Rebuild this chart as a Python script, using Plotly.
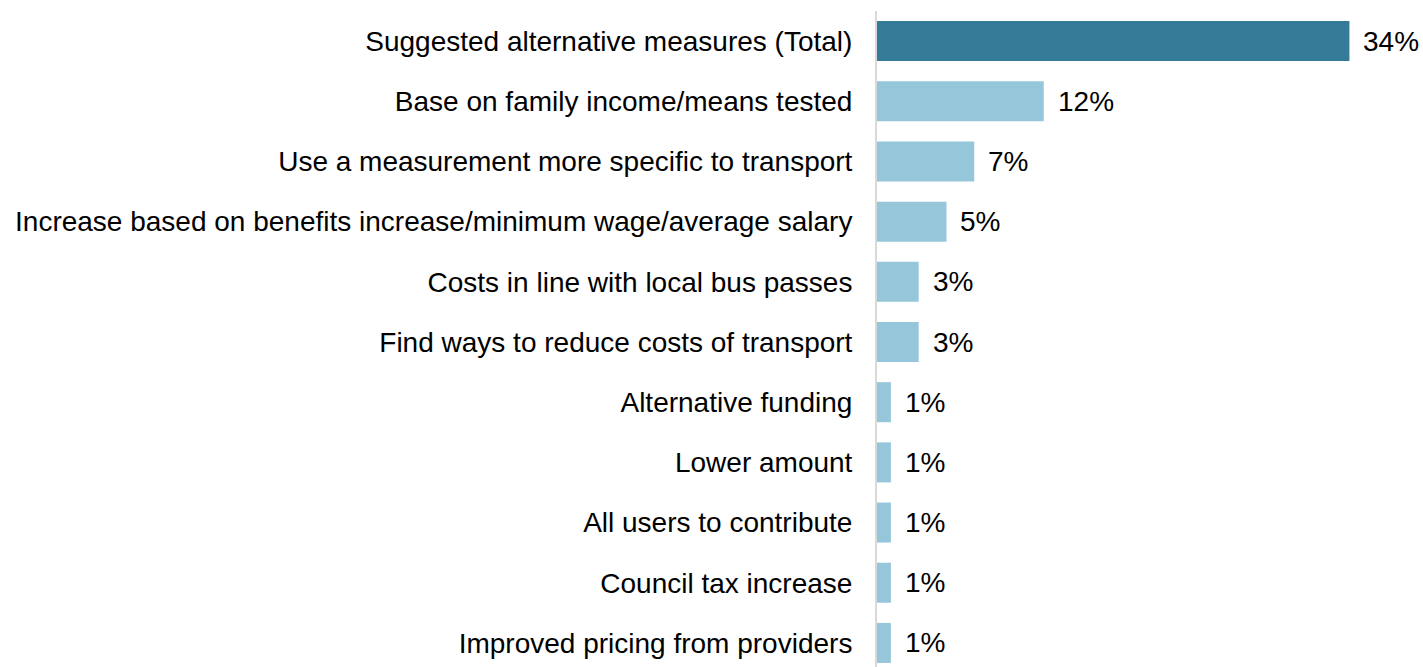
import plotly.graph_objects as go

categories = [
    "Suggested alternative measures (Total)",
    "Base on family income/means tested",
    "Use a measurement more specific to transport",
    "Increase based on benefits increase/minimum wage/average salary",
    "Costs in line with local bus passes",
    "Find ways to reduce costs of transport",
    "Alternative funding",
    "Lower amount",
    "All users to contribute",
    "Council tax increase",
    "Improved pricing from providers",
]
values = [34, 12, 7, 5, 3, 3, 1, 1, 1, 1, 1]
labels = [f"{v}%" for v in values]
colors = ["#347B98"] + ["#95C6DA"] * (len(values) - 1)

FONT = "Liberation Sans, Arial"
FS = 28

fig = go.Figure(
    go.Bar(
        x=values,
        y=categories,
        orientation="h",
        marker=dict(color=colors, line=dict(width=0)),
        cliponaxis=False,
    )
)

for cat, v, lab in zip(categories, values, labels):
    fig.add_annotation(
        x=v, y=cat, text=lab, showarrow=False,
        xanchor="left", yanchor="middle", xshift=12,
        font=dict(family=FONT, size=FS, color="#000000"),
    )

fig.update_layout(
    width=1423,
    height=667,
    margin=dict(l=877, r=18, t=11, b=0, autoexpand=False),
    paper_bgcolor="white",
    plot_bgcolor="white",
    showlegend=False,
    bargap=0.335,
    font=dict(family=FONT, size=FS, color="#000000"),
    xaxis=dict(range=[0, 38], visible=False, showgrid=False, zeroline=False, automargin=False),
    yaxis=dict(
        type="category",
        range=[10.4, -0.5],
        showgrid=False,
        zeroline=False,
        showline=True,
        linecolor="#D9D9D9",
        linewidth=2,
        ticks="",
        automargin=False,
        ticklabelstandoff=17,
        tickfont=dict(family=FONT, size=FS, color="#000000"),
    ),
)

fig.write_html(
    "out.html",
    config={"displayModeBar": False},
    post_script="document.body.style.margin='0';document.body.style.overflow='hidden';",
)
